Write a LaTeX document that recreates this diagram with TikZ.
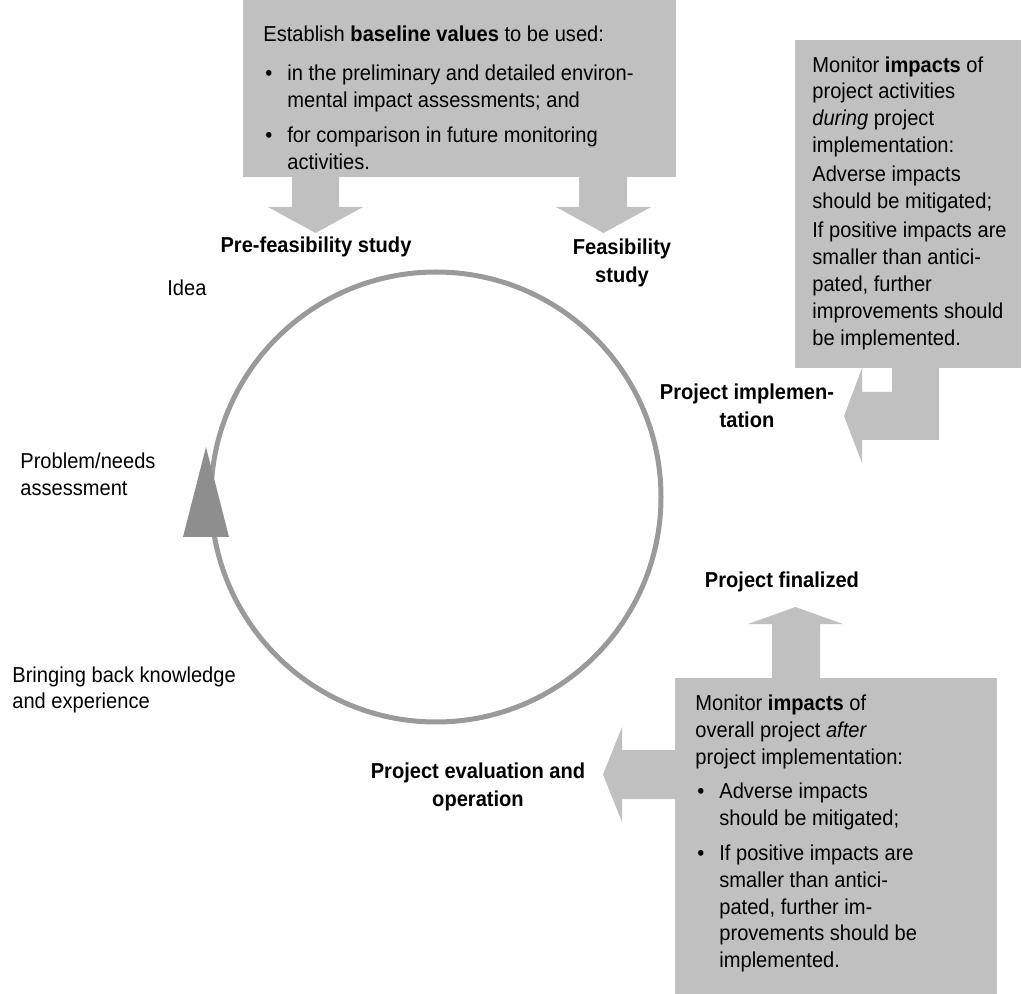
\documentclass[tikz,border=0pt]{standalone}
\usepackage{fontspec}
\setmainfont{Liberation Sans}[FakeStretch=0.93]
\usepackage{tikz}

\definecolor{boxgray}{HTML}{C0C0C0}
\definecolor{ringgray}{HTML}{9A9A9A}
\definecolor{tipgray}{HTML}{8E8E8E}

\newcommand{\itemdot}{\hspace*{1pt}\makebox[11pt][l]{\textbullet}}
\newcommand{\itemgap}{\hspace*{12pt}}

\begin{document}
\begin{tikzpicture}[x=0.5pt,y=-0.5pt,
	txt/.style={font=\fontsize{10.8}{13.4}\selectfont, inner sep=0pt},
	stage/.style={txt, font=\fontsize{10.8}{14}\selectfont\bfseries, align=center},
	plain/.style={txt, align=left, anchor=west},
	note/.style={txt, align=left, anchor=north west},
	slab/.style={fill=boxgray, draw=none}]

	\useasboundingbox (0,0) rectangle (1023,994);

	% the project cycle
	\coordinate (ctr) at (436,497);
	\draw[ringgray, line width=2.5pt] (ctr) circle[radius=112.5pt];
	\fill[tipgray] (206,447) -- (229,537) -- (183,537) -- cycle;

	% baseline box with two arrows down
	\fill[slab] (243,0) rectangle (676,177);
	\fill[slab] (292,177) -- (292,207) -- (268,207) -- (315.5,233) -- (363,207) -- (339,207) -- (339,177) -- cycle;
	\fill[slab] (579,177) -- (579,207) -- (556,207) -- (603.5,233) -- (651,207) -- (627,207) -- (627,177) -- cycle;
	\node[note] (baseline) at (263,25) {Establish \textbf{baseline values} to be used:\\[6.5pt]
		\itemdot in the preliminary and detailed environ-\\
		\itemgap mental impact assessments; and\\[4pt]
		\itemdot for comparison in future monitoring\\
		\itemgap activities.};

	% monitoring during implementation
	\fill[slab] (795,40) rectangle (1021,368);
	\fill[slab] (892,368) -- (892,392) -- (862,392) -- (862,368) -- (844,416) -- (862,463) -- (862,440) -- (939,440) -- (939,368) -- cycle;
	\node[note] (during) at (812,56) {Monitor \textbf{impacts} of\\
		project activities\\
		\textit{during} project\\
		implementation:\\[1pt]
		Adverse impacts\\
		should be mitigated;\\[1.5pt]
		If positive impacts are\\
		smaller than antici-\\
		pated, further\\
		improvements should\\
		be implemented.};

	% monitoring after implementation
	\fill[slab] (675,678) rectangle (997,994);
	\fill[slab] (772,678) -- (772,624) -- (748,624) -- (795.5,607) -- (843,624) -- (820,624) -- (820,678) -- cycle;
	\fill[slab] (675,750) -- (622,750) -- (622,727) -- (603,774.5) -- (622,822) -- (622,799) -- (675,799) -- cycle;
	\node[note] (after) at (695,694.5) {Monitor \textbf{impacts} of\\
		overall project \textit{after}\\
		project implementation:\\[4pt]
		\itemdot Adverse impacts\\
		\itemgap should be mitigated;\\[4pt]
		\itemdot If positive impacts are\\
		\itemgap smaller than antici-\\
		\itemgap pated, further im-\\
		\itemgap provements should be\\
		\itemgap implemented.};

	% stages
	\node[stage] (pre) at (316,247) {Pre-feasibility study};
	\node[stage] (feas) at (622,263) {Feasibility\\study};
	\node[stage] (impl) at (747,406) {Project implemen-\\tation};
	\node[stage] (final) at (782,582) {Project finalized};
	\node[stage] (evalop) at (478,787) {Project evaluation and\\operation};
	\node[plain] (idea) at (167,288) {Idea};
	\node[plain] (needs) at (20,474) {Problem/needs\\assessment};
	\node[plain] (back) at (12,690) {Bringing back knowledge\\and experience};

\end{tikzpicture}
\end{document}
